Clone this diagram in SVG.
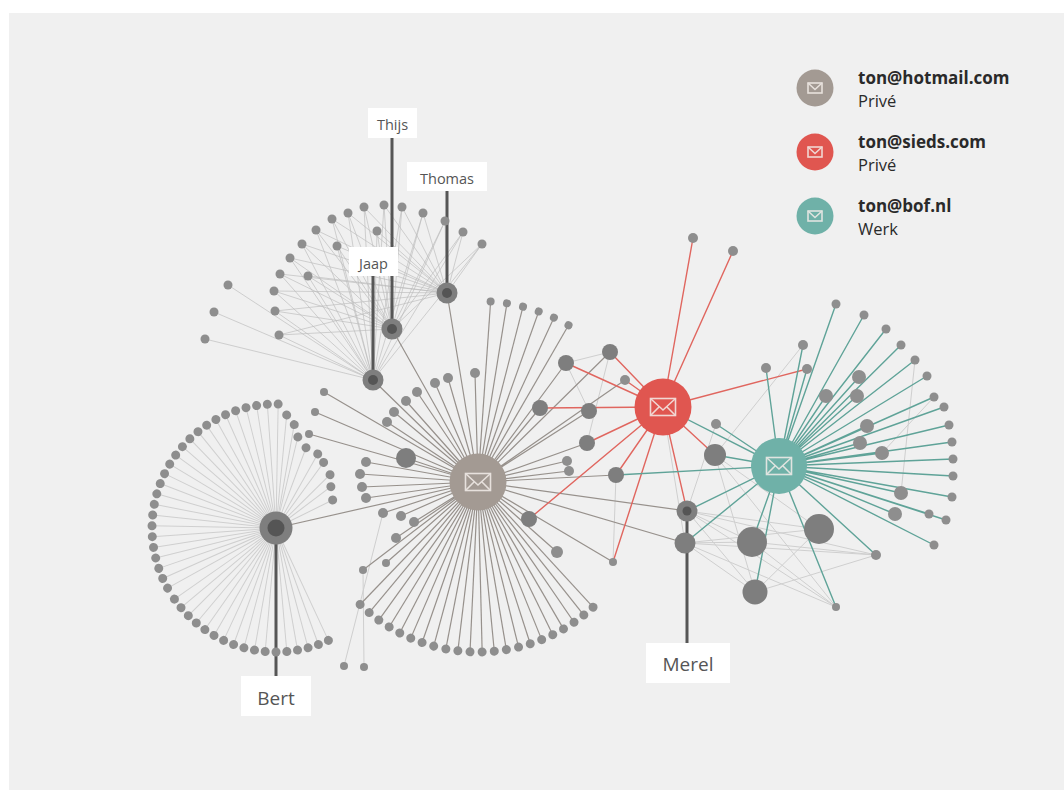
<svg xmlns="http://www.w3.org/2000/svg" width="1064" height="790" viewBox="0 0 1064 790">
<style>
.lt{stroke:#cfcfcf;stroke-width:1;fill:none}
.mesh{stroke:#bcbcbc;stroke-width:0.8;fill:none;opacity:0.85}
.gy{stroke:#97918c;stroke-width:1.2;fill:none}
.rd{stroke:#e0665f;stroke-width:1.4;fill:none}
.tl{stroke:#5fa398;stroke-width:1.4;fill:none}
.lbl{stroke:#565656;stroke-width:3}
.leaf{fill:#8e8e8e}
.big{fill:#7e7e7e}
.inner{fill:#555}
.box{fill:#ffffff}
.t{font-family:"Open Sans","Noto Sans",sans-serif;fill:#555555}
.lg{font-family:"Open Sans","Noto Sans",sans-serif;fill:#2a2a2a}
.env{fill:none;stroke:#f4eeea;stroke-width:1.6;opacity:0.85}
</style>
<rect x="0" y="0" width="1064" height="790" fill="#ffffff"/>
<rect x="9" y="13" width="1055" height="777" fill="#f0f0f0"/>

<g id="connectors">
  <!-- Bert fan -->
  <g class="lt" transform="translate(276,528)">
    <line x2="124" transform="rotate(65)"/><line x2="124" transform="rotate(70)"/><line x2="124" transform="rotate(75)"/><line x2="124" transform="rotate(80)"/><line x2="124" transform="rotate(85)"/><line x2="124" transform="rotate(90)"/><line x2="124" transform="rotate(95)"/><line x2="124" transform="rotate(100)"/><line x2="124" transform="rotate(105)"/><line x2="124" transform="rotate(110)"/><line x2="124" transform="rotate(115)"/><line x2="124" transform="rotate(120)"/><line x2="124" transform="rotate(125)"/><line x2="124" transform="rotate(130)"/><line x2="124" transform="rotate(135)"/><line x2="124" transform="rotate(140)"/><line x2="124" transform="rotate(145)"/><line x2="124" transform="rotate(151)"/><line x2="124" transform="rotate(156)"/><line x2="124" transform="rotate(161)"/><line x2="124" transform="rotate(166)"/><line x2="124" transform="rotate(171)"/><line x2="124" transform="rotate(176)"/><line x2="124" transform="rotate(181)"/><line x2="124" transform="rotate(186)"/><line x2="124" transform="rotate(191)"/><line x2="124" transform="rotate(196)"/><line x2="124" transform="rotate(201)"/><line x2="124" transform="rotate(206)"/><line x2="124" transform="rotate(211)"/><line x2="124" transform="rotate(216)"/><line x2="124" transform="rotate(221)"/><line x2="124" transform="rotate(226)"/><line x2="124" transform="rotate(231)"/><line x2="124" transform="rotate(236)"/><line x2="124" transform="rotate(241)"/><line x2="124" transform="rotate(246)"/><line x2="124" transform="rotate(251)"/><line x2="124" transform="rotate(256)"/><line x2="124" transform="rotate(261)"/><line x2="124" transform="rotate(266)"/><line x2="124" transform="rotate(271)"/>
    <line x2="113.5" transform="rotate(275.4)"/><line x2="105" transform="rotate(280)"/><line x2="93.6" transform="rotate(283.5)"/><line x2="85.7" transform="rotate(290.5)"/><line x2="85" transform="rotate(299.4)"/><line x2="81" transform="rotate(306)"/><line x2="75.9" transform="rotate(315.4)"/><line x2="68.7" transform="rotate(323)"/><line x2="63.2" transform="rotate(333.7)"/>
  </g>
  <!-- Jaap / Thijs / Thomas mesh -->
  <path class="mesh" d="M373 380L348 213L392 329M348 213L447 293 M373 380L364 207L392 329M364 207L447 293 M373 380L384 205L392 329M384 205L447 293 M373 380L402 207L392 329M402 207L447 293 M373 380L423 213L392 329M423 213L447 293 M373 380L445 221L392 329M445 221L447 293 M373 380L463 232L392 329M463 232L447 293 M373 380L482 244L392 329M482 244L447 293 M373 380L332 219L392 329M332 219L447 293 M373 380L316 230L392 329M316 230L447 293 M373 380L302 244L392 329M302 244L447 293 M373 380L290 258L392 329M290 258L447 293 M373 380L280 274L392 329M280 274L447 293 M373 380L274 291L392 329M274 291L447 293 M373 380L275 311L392 329M275 311L447 293 M373 380L279 335L392 329M279 335L447 293 M373 380L377 231L392 329M377 231L447 293 M373 380L337 246L392 329M337 246L447 293 M373 380L308 276L392 329M308 276L447 293 M373 380L228 285M373 380L214 312M373 380L205 339"/>
  <!-- light mesh -->
  <path class="lt" d="M687 511L752 542M687 511L819 529M687 511L876 555M687 511L755 592M687 511L836 607M685 543L752 542M685 543L819 529M685 543L755 592M685 543L836 607M685 543L876 555M715 455L755 592M715 455L836 607M715 455L819 529M752 542L876 555M755 592L876 555M755 592L819 529M752 542L836 607M803 345L715 455M915 360L901 493M934 397L882 453M610 352L566 363M566 363L589 411M610 352L587 443M663 407L685 543M616 475L613 562M716 424L687 511M344 666L383 513M364 667L363 570"/>
  <!-- grey hub fan -->
  <g class="gy" transform="translate(478,482)">
    <line x2="181" transform="rotate(-86)"/><line x2="181" transform="rotate(-80.8)"/><line x2="181" transform="rotate(-75.6)"/><line x2="181" transform="rotate(-70.4)"/><line x2="181" transform="rotate(-65.2)"/><line x2="181" transform="rotate(-60)"/>
    <line x2="170" transform="rotate(47.4)"/><line x2="170" transform="rotate(51.5)"/><line x2="170" transform="rotate(55.6)"/><line x2="170" transform="rotate(59.8)"/><line x2="170" transform="rotate(63.9)"/><line x2="170" transform="rotate(68)"/><line x2="170" transform="rotate(72.1)"/><line x2="170" transform="rotate(76.2)"/><line x2="170" transform="rotate(80.4)"/><line x2="170" transform="rotate(84.5)"/><line x2="170" transform="rotate(88.6)"/><line x2="170" transform="rotate(92.7)"/><line x2="170" transform="rotate(96.8)"/><line x2="170" transform="rotate(100.9)"/><line x2="170" transform="rotate(105.1)"/><line x2="170" transform="rotate(109.2)"/><line x2="170" transform="rotate(113.3)"/><line x2="170" transform="rotate(117.4)"/><line x2="170" transform="rotate(121.5)"/><line x2="170" transform="rotate(125.7)"/><line x2="170" transform="rotate(129.8)"/><line x2="170" transform="rotate(133.9)"/>
  </g>
  <path class="gy" d="M478 482L324 392M478 482L315 412M478 482L309 434M478 482L366 462M478 482L360 474M478 482L362 487M478 482L366 498M478 482L406 458M478 482L383 513M478 482L401 516M478 482L414 522M478 482L396 538M478 482L386 563M478 482L363 570M478 482L387 422M478 482L394 412M478 482L406 401M478 482L417 392M478 482L435 383M478 482L448 378M478 482L475 373M478 482L373 380M478 482L392 329M478 482L447 293M478 482L276 528M478 482L610 352M478 482L566 363M478 482L625 380M478 482L540 408M478 482L589 411M478 482L587 443M478 482L567 461M478 482L569 471M478 482L616 475M478 482L529 519M478 482L557 552M478 482L613 562M478 482L687 511M478 482L685 543"/>
  <!-- red hub -->
  <path class="rd" d="M663 407L693 238M663 407L733 251M663 407L610 352M663 407L566 363M663 407L625 380M663 407L540 408M663 407L587 443M663 407L529 519M663 407L616 475M663 407L613 562M663 407L687 511M663 407L715 455M663 407L807 369"/>
  <!-- teal hub -->
  <path class="tl" d="M779 466L836 304M779 466L864 315M779 466L886 329M779 466L901 345M779 466L915 360M779 466L927 376M779 466L934 397M779 466L944 407M779 466L949 425M779 466L952 442M779 466L953 459M779 466L953 476M779 466L952 497M779 466L946 520M779 466L929 514M779 466L934 545M779 466L876 555M779 466L836 607M779 466L859 377M779 466L826 396M779 466L857 396M779 466L867 426M779 466L860 443M779 466L882 453M779 466L901 493M779 466L895 514M779 466L803 345M779 466L807 369M779 466L766 368M779 466L716 424M779 466L715 455M779 466L616 475M779 466L687 511M779 466L685 543M779 466L752 542M779 466L755 592M779 466L663 407"/>
  <!-- label leaders -->
  <g class="lbl">
    <line x1="392" y1="137" x2="392" y2="329"/>
    <line x1="447" y1="190" x2="447" y2="293"/>
    <line x1="373" y1="275" x2="373" y2="380"/>
    <line x1="276" y1="528" x2="276" y2="677"/>
    <line x1="687" y1="511" x2="687" y2="644"/>
  </g>
</g>

<g id="leaves">
  <g id="bert-leaves" class="leaf" transform="translate(276,528)">
    <circle cx="124" r="4.5" transform="rotate(65)"/><circle cx="124" r="4.5" transform="rotate(70)"/><circle cx="124" r="4.5" transform="rotate(75)"/><circle cx="124" r="4.5" transform="rotate(80)"/><circle cx="124" r="4.5" transform="rotate(85)"/><circle cx="124" r="4.5" transform="rotate(90)"/><circle cx="124" r="4.5" transform="rotate(95)"/><circle cx="124" r="4.5" transform="rotate(100)"/><circle cx="124" r="4.5" transform="rotate(105)"/><circle cx="124" r="4.5" transform="rotate(110)"/><circle cx="124" r="4.5" transform="rotate(115)"/><circle cx="124" r="4.5" transform="rotate(120)"/><circle cx="124" r="4.5" transform="rotate(125)"/><circle cx="124" r="4.5" transform="rotate(130)"/><circle cx="124" r="4.5" transform="rotate(135)"/><circle cx="124" r="4.5" transform="rotate(140)"/><circle cx="124" r="4.5" transform="rotate(145)"/><circle cx="124" r="4.5" transform="rotate(151)"/><circle cx="124" r="4.5" transform="rotate(156)"/><circle cx="124" r="4.5" transform="rotate(161)"/><circle cx="124" r="4.5" transform="rotate(166)"/><circle cx="124" r="4.5" transform="rotate(171)"/><circle cx="124" r="4.5" transform="rotate(176)"/><circle cx="124" r="4.5" transform="rotate(181)"/><circle cx="124" r="4.5" transform="rotate(186)"/><circle cx="124" r="4.5" transform="rotate(191)"/><circle cx="124" r="4.5" transform="rotate(196)"/><circle cx="124" r="4.5" transform="rotate(201)"/><circle cx="124" r="4.5" transform="rotate(206)"/><circle cx="124" r="4.5" transform="rotate(211)"/><circle cx="124" r="4.5" transform="rotate(216)"/><circle cx="124" r="4.5" transform="rotate(221)"/><circle cx="124" r="4.5" transform="rotate(226)"/><circle cx="124" r="4.5" transform="rotate(231)"/><circle cx="124" r="4.5" transform="rotate(236)"/><circle cx="124" r="4.5" transform="rotate(241)"/><circle cx="124" r="4.5" transform="rotate(246)"/><circle cx="124" r="4.5" transform="rotate(251)"/><circle cx="124" r="4.5" transform="rotate(256)"/><circle cx="124" r="4.5" transform="rotate(261)"/><circle cx="124" r="4.5" transform="rotate(266)"/><circle cx="124" r="4.5" transform="rotate(271)"/>
    <circle cx="113.5" r="4.5" transform="rotate(275.4)"/><circle cx="105" r="4.5" transform="rotate(280)"/><circle cx="93.6" r="4.5" transform="rotate(283.5)"/><circle cx="85.7" r="4.5" transform="rotate(290.5)"/><circle cx="85" r="4.5" transform="rotate(299.4)"/><circle cx="81" r="4.5" transform="rotate(306)"/><circle cx="75.9" r="4.5" transform="rotate(315.4)"/><circle cx="68.7" r="4.5" transform="rotate(323)"/><circle cx="63.2" r="4.5" transform="rotate(333.7)"/>
  </g>
  <g id="top-leaves" class="leaf">
    <circle cx="348" cy="213" r="4.5"/><circle cx="364" cy="207" r="4.5"/><circle cx="384" cy="205" r="4.5"/><circle cx="402" cy="207" r="4.5"/><circle cx="423" cy="213" r="4.5"/><circle cx="445" cy="221" r="4.5"/><circle cx="463" cy="232" r="4.5"/><circle cx="482" cy="244" r="4.5"/><circle cx="332" cy="219" r="4.5"/><circle cx="316" cy="230" r="4.5"/><circle cx="302" cy="244" r="4.5"/><circle cx="290" cy="258" r="4.5"/><circle cx="280" cy="274" r="4.5"/><circle cx="274" cy="291" r="4.5"/><circle cx="275" cy="311" r="4.5"/><circle cx="279" cy="335" r="4.5"/><circle cx="377" cy="231" r="4.5"/><circle cx="337" cy="246" r="4.5"/><circle cx="308" cy="276" r="4.5"/><circle cx="228" cy="285" r="4.5"/><circle cx="214" cy="312" r="4.5"/><circle cx="205" cy="339" r="4.5"/>
  </g>
  <g id="hotmail-leaves" class="leaf">
    <g transform="translate(478,482)">
      <circle cx="181" r="4" transform="rotate(-86)"/><circle cx="181" r="4" transform="rotate(-80.8)"/><circle cx="181" r="4" transform="rotate(-75.6)"/><circle cx="181" r="4" transform="rotate(-70.4)"/><circle cx="181" r="4" transform="rotate(-65.2)"/><circle cx="181" r="4" transform="rotate(-60)"/>
      <circle cx="170" r="4.5" transform="rotate(47.4)"/><circle cx="170" r="4.5" transform="rotate(51.5)"/><circle cx="170" r="4.5" transform="rotate(55.6)"/><circle cx="170" r="4.5" transform="rotate(59.8)"/><circle cx="170" r="4.5" transform="rotate(63.9)"/><circle cx="170" r="4.5" transform="rotate(68)"/><circle cx="170" r="4.5" transform="rotate(72.1)"/><circle cx="170" r="4.5" transform="rotate(76.2)"/><circle cx="170" r="4.5" transform="rotate(80.4)"/><circle cx="170" r="4.5" transform="rotate(84.5)"/><circle cx="170" r="4.5" transform="rotate(88.6)"/><circle cx="170" r="4.5" transform="rotate(92.7)"/><circle cx="170" r="4.5" transform="rotate(96.8)"/><circle cx="170" r="4.5" transform="rotate(100.9)"/><circle cx="170" r="4.5" transform="rotate(105.1)"/><circle cx="170" r="4.5" transform="rotate(109.2)"/><circle cx="170" r="4.5" transform="rotate(113.3)"/><circle cx="170" r="4.5" transform="rotate(117.4)"/><circle cx="170" r="4.5" transform="rotate(121.5)"/><circle cx="170" r="4.5" transform="rotate(125.7)"/><circle cx="170" r="4.5" transform="rotate(129.8)"/><circle cx="170" r="4.5" transform="rotate(133.9)"/>
    </g>
    <circle cx="324" cy="392" r="4"/><circle cx="315" cy="412" r="4"/><circle cx="309" cy="434" r="4"/><circle cx="366" cy="462" r="5"/><circle cx="360" cy="474" r="5"/><circle cx="362" cy="487" r="5"/><circle cx="366" cy="498" r="5"/><circle cx="383" cy="513" r="5"/><circle cx="401" cy="516" r="5"/><circle cx="414" cy="522" r="5"/><circle cx="396" cy="538" r="5"/><circle cx="386" cy="563" r="4"/><circle cx="363" cy="570" r="4"/>
    <circle cx="387" cy="422" r="5"/><circle cx="394" cy="412" r="5"/><circle cx="406" cy="401" r="5"/><circle cx="417" cy="392" r="5"/><circle cx="435" cy="383" r="5"/><circle cx="448" cy="378" r="5"/><circle cx="475" cy="373" r="5"/>
    <circle cx="344" cy="666" r="4"/><circle cx="364" cy="667" r="4"/>
    <circle cx="567" cy="461" r="5"/><circle cx="569" cy="471" r="5"/><circle cx="557" cy="552" r="6"/><circle cx="613" cy="562" r="4"/><circle cx="625" cy="380" r="5"/>
  </g>
  <g id="shared-leaves" class="big">
    <circle cx="406" cy="458" r="10"/>
    <circle cx="610" cy="352" r="8"/><circle cx="566" cy="363" r="8"/><circle cx="540" cy="408" r="8"/><circle cx="589" cy="411" r="8"/><circle cx="587" cy="443" r="8"/><circle cx="616" cy="475" r="8"/><circle cx="529" cy="519" r="8"/>
    <circle cx="715" cy="455" r="11"/><circle cx="685" cy="543" r="10.5"/><circle cx="752" cy="542" r="15"/><circle cx="819" cy="529" r="15"/><circle cx="755" cy="592" r="12.5"/>
  </g>
  <g id="red-leaves" class="leaf">
    <circle cx="693" cy="238" r="5"/><circle cx="733" cy="251" r="5"/><circle cx="807" cy="369" r="5"/>
  </g>
  <g id="teal-leaves" class="leaf">
    <circle cx="836" cy="304" r="4.5"/><circle cx="864" cy="315" r="4.5"/><circle cx="886" cy="329" r="4.5"/><circle cx="901" cy="345" r="4.5"/><circle cx="915" cy="360" r="4.5"/><circle cx="927" cy="376" r="4.5"/><circle cx="934" cy="397" r="4.5"/><circle cx="944" cy="407" r="4.5"/><circle cx="949" cy="425" r="4.5"/><circle cx="952" cy="442" r="4.5"/><circle cx="953" cy="459" r="4.5"/><circle cx="953" cy="476" r="4.5"/><circle cx="952" cy="497" r="4.5"/><circle cx="946" cy="520" r="4.5"/><circle cx="929" cy="514" r="4.5"/><circle cx="934" cy="545" r="4.5"/><circle cx="876" cy="555" r="5"/><circle cx="836" cy="607" r="4"/>
    <circle cx="859" cy="377" r="7"/><circle cx="826" cy="396" r="7"/><circle cx="857" cy="396" r="7"/><circle cx="867" cy="426" r="7"/><circle cx="860" cy="443" r="7"/><circle cx="882" cy="453" r="7"/><circle cx="901" cy="493" r="7"/><circle cx="895" cy="514" r="7"/>
    <circle cx="803" cy="345" r="5"/><circle cx="766" cy="368" r="5"/><circle cx="716" cy="424" r="5"/>
  </g>
</g>

<g id="node-bert"><circle cx="276" cy="528" r="16.5" class="big"/><circle cx="276" cy="528" r="8.5" class="inner"/></g>
<g id="node-jaap"><circle cx="373" cy="380" r="10.5" class="big"/><circle cx="373" cy="380" r="5" class="inner"/></g>
<g id="node-thijs"><circle cx="392" cy="329" r="10.5" class="big"/><circle cx="392" cy="329" r="5" class="inner"/></g>
<g id="node-thomas"><circle cx="447" cy="293" r="10.5" class="big"/><circle cx="447" cy="293" r="5" class="inner"/></g>
<g id="node-merel"><circle cx="687" cy="511" r="10.5" class="big"/><circle cx="687" cy="511" r="4.5" class="inner"/></g>

<g id="hub-hotmail" transform="translate(478,482)">
  <circle r="28.5" fill="#a39a93"/>
  <g class="env"><rect x="-12.5" y="-8.5" width="25" height="17"/><path d="M-12.5 -8.5L0 3L12.5 -8.5M-12.5 8.5L-4 0M12.5 8.5L4 0"/></g>
</g>
<g id="hub-sieds" transform="translate(663,407)">
  <circle r="28.5" fill="#e05650"/>
  <g class="env"><rect x="-12.5" y="-8.5" width="25" height="17"/><path d="M-12.5 -8.5L0 3L12.5 -8.5M-12.5 8.5L-4 0M12.5 8.5L4 0"/></g>
</g>
<g id="hub-bof" transform="translate(779,466)">
  <circle r="28" fill="#6fb1a8"/>
  <g class="env"><rect x="-12.5" y="-8.5" width="25" height="17"/><path d="M-12.5 -8.5L0 3L12.5 -8.5M-12.5 8.5L-4 0M12.5 8.5L4 0"/></g>
</g>

<g id="label-thijs"><rect class="box" x="368" y="108" width="49" height="30"/><text class="t" x="392.5" y="129.5" font-size="14.5" text-anchor="middle">Thijs</text></g>
<g id="label-thomas"><rect class="box" x="407" y="162" width="80" height="29"/><text class="t" x="447" y="183.5" font-size="14.5" text-anchor="middle">Thomas</text></g>
<g id="label-jaap"><rect class="box" x="349" y="247" width="49" height="29"/><text class="t" x="373.5" y="268.5" font-size="14.5" text-anchor="middle">Jaap</text></g>
<g id="label-bert"><rect class="box" x="241" y="676" width="70" height="40"/><text class="t" x="276" y="704.5" font-size="19" text-anchor="middle">Bert</text></g>
<g id="label-merel"><rect class="box" x="646" y="643" width="84" height="40"/><text class="t" x="688" y="670.5" font-size="19" text-anchor="middle">Merel</text></g>

<g id="legend">
  <g id="legend-hotmail">
    <g transform="translate(815,88)"><circle r="18.5" fill="#a39a93"/><g class="env" stroke-width="1.2"><rect x="-7" y="-5" width="14" height="10"/><path d="M-7 -5L0 1.5L7 -5"/></g></g>
    <text class="lg" x="858" y="84" font-size="17" font-weight="700">ton@hotmail.com</text>
    <text class="lg" x="858" y="107" font-size="16.5">Privé</text>
  </g>
  <g id="legend-sieds">
    <g transform="translate(815,152)"><circle r="18.5" fill="#e05650"/><g class="env" stroke-width="1.2"><rect x="-7" y="-5" width="14" height="10"/><path d="M-7 -5L0 1.5L7 -5"/></g></g>
    <text class="lg" x="858" y="148" font-size="17" font-weight="700">ton@sieds.com</text>
    <text class="lg" x="858" y="171" font-size="16.5">Privé</text>
  </g>
  <g id="legend-bof">
    <g transform="translate(815,216)"><circle r="18.5" fill="#6fb1a8"/><g class="env" stroke-width="1.2"><rect x="-7" y="-5" width="14" height="10"/><path d="M-7 -5L0 1.5L7 -5"/></g></g>
    <text class="lg" x="858" y="212" font-size="17" font-weight="700">ton@bof.nl</text>
    <text class="lg" x="858" y="235" font-size="16.5">Werk</text>
  </g>
</g>
</svg>
